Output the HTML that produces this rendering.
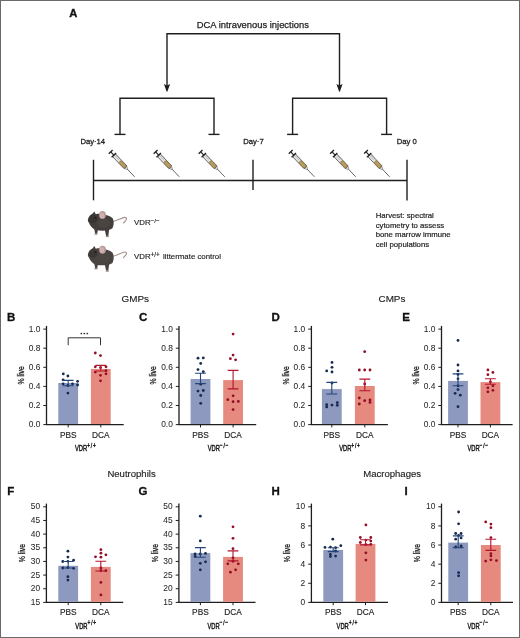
<!DOCTYPE html>
<html><head><meta charset="utf-8"><title>Figure</title>
<style>
html,body{margin:0;padding:0;background:#fff;}
svg{display:block;will-change:transform;}
text{font-family:"Liberation Sans",sans-serif;}
</style></head>
<body>
<svg width="520" height="638" viewBox="0 0 520 638" font-family="'Liberation Sans', sans-serif">
<rect x="0" y="0" width="520" height="638" fill="#fff"/>
<rect x="0.5" y="0.5" width="519" height="637" fill="none" stroke="#6a6a6a" stroke-width="1"/>
<text x="69.20" y="16.70" font-size="11.2" text-anchor="start" font-weight="bold" fill="#111" stroke="#111" stroke-width="0.35">A</text>
<text x="196.80" y="28.10" font-size="9.4" text-anchor="start" font-weight="normal" fill="#1e1e1e" stroke="#1e1e1e" stroke-width="0.25">DCA intravenous injections</text>
<path d="M167,86 V33.8 H339.5 V86" fill="none" stroke="#1e1e1e" stroke-width="1.4"/>
<path d="M163.90,84.0 L167.00,85.6 L170.10,84.0 L167.50,91.3 L167.00,91.9 L166.50,91.3 Z" fill="#1e1e1e"/>
<path d="M336.40,84.0 L339.50,85.6 L342.60,84.0 L340.00,91.3 L339.50,91.9 L339.00,91.3 Z" fill="#1e1e1e"/>
<path d="M120.0,134.4 V98.3 H214.0 V134.4" fill="none" stroke="#1e1e1e" stroke-width="1.4"/>
<line x1="114.5" y1="134.4" x2="125.5" y2="134.4" stroke="#1e1e1e" stroke-width="1.4"/>
<line x1="208.5" y1="134.4" x2="219.5" y2="134.4" stroke="#1e1e1e" stroke-width="1.4"/>
<path d="M292.6,134.4 V98.3 H386.6 V134.4" fill="none" stroke="#1e1e1e" stroke-width="1.4"/>
<line x1="287.1" y1="134.4" x2="298.1" y2="134.4" stroke="#1e1e1e" stroke-width="1.4"/>
<line x1="381.1" y1="134.4" x2="392.1" y2="134.4" stroke="#1e1e1e" stroke-width="1.4"/>
<text x="80.40" y="144.20" font-size="7.7" text-anchor="start" font-weight="normal" fill="#1e1e1e" stroke="#1e1e1e" stroke-width="0.28">Day<tspan font-size="5" dx="0.4" dy="-1.4">-</tspan><tspan dx="0.4" dy="1.4">14</tspan></text>
<text x="243.30" y="144.20" font-size="7.7" text-anchor="start" font-weight="normal" fill="#1e1e1e" stroke="#1e1e1e" stroke-width="0.28">Day<tspan font-size="5" dx="0.4" dy="-1.4">-</tspan><tspan dx="0.4" dy="1.4">7</tspan></text>
<text x="396.70" y="144.20" font-size="7.7" text-anchor="start" font-weight="normal" fill="#1e1e1e" stroke="#1e1e1e" stroke-width="0.28">Day 0</text>
<line x1="93.5" y1="180.5" x2="407" y2="180.5" stroke="#1e1e1e" stroke-width="1.4"/>
<line x1="93.5" y1="159.8" x2="93.5" y2="200.3" stroke="#1e1e1e" stroke-width="1.4"/>
<line x1="253" y1="159.8" x2="253" y2="190" stroke="#1e1e1e" stroke-width="1.4"/>
<line x1="407" y1="159.8" x2="407" y2="200.5" stroke="#1e1e1e" stroke-width="1.4"/>
<g transform="translate(110.70,151.80) rotate(46.29) scale(0.988)"><line x1="23" y1="0" x2="35" y2="0" stroke="#5c5c5c" stroke-width="0.9"/><path d="M21.5,-1.6 L24,-0.8 L24,0.8 L21.5,1.6 Z" fill="#d8d8d8" stroke="#555" stroke-width="0.5"/><rect x="5" y="-2.0" width="16.8" height="4.0" fill="#e2e2e2" stroke="#4a4a4a" stroke-width="0.75"/><rect x="13.4" y="-1.75" width="8.2" height="3.5" rx="1.7" fill="#b69d5d" stroke="#7a5a2a" stroke-width="0.5"/><line x1="6.8" y1="-2.2" x2="6.8" y2="0" stroke="#777" stroke-width="0.35"/><line x1="8.2" y1="-2.2" x2="8.2" y2="0" stroke="#777" stroke-width="0.35"/><line x1="9.6" y1="-2.2" x2="9.6" y2="0" stroke="#777" stroke-width="0.35"/><line x1="11.0" y1="-2.2" x2="11.0" y2="0" stroke="#777" stroke-width="0.35"/><line x1="0" y1="0" x2="5" y2="0" stroke="#222" stroke-width="1.2"/><line x1="0" y1="-2.7" x2="0" y2="2.7" stroke="#222" stroke-width="1.4"/><line x1="4.6" y1="-3.1" x2="4.6" y2="3.1" stroke="#222" stroke-width="1.3"/></g>
<g transform="translate(155.60,151.80) rotate(46.53) scale(0.984)"><line x1="23" y1="0" x2="35" y2="0" stroke="#5c5c5c" stroke-width="0.9"/><path d="M21.5,-1.6 L24,-0.8 L24,0.8 L21.5,1.6 Z" fill="#d8d8d8" stroke="#555" stroke-width="0.5"/><rect x="5" y="-2.0" width="16.8" height="4.0" fill="#e2e2e2" stroke="#4a4a4a" stroke-width="0.75"/><rect x="13.4" y="-1.75" width="8.2" height="3.5" rx="1.7" fill="#b69d5d" stroke="#7a5a2a" stroke-width="0.5"/><line x1="6.8" y1="-2.2" x2="6.8" y2="0" stroke="#777" stroke-width="0.35"/><line x1="8.2" y1="-2.2" x2="8.2" y2="0" stroke="#777" stroke-width="0.35"/><line x1="9.6" y1="-2.2" x2="9.6" y2="0" stroke="#777" stroke-width="0.35"/><line x1="11.0" y1="-2.2" x2="11.0" y2="0" stroke="#777" stroke-width="0.35"/><line x1="0" y1="0" x2="5" y2="0" stroke="#222" stroke-width="1.2"/><line x1="0" y1="-2.7" x2="0" y2="2.7" stroke="#222" stroke-width="1.4"/><line x1="4.6" y1="-3.1" x2="4.6" y2="3.1" stroke="#222" stroke-width="1.3"/></g>
<g transform="translate(200.60,151.80) rotate(45.93) scale(0.994)"><line x1="23" y1="0" x2="35" y2="0" stroke="#5c5c5c" stroke-width="0.9"/><path d="M21.5,-1.6 L24,-0.8 L24,0.8 L21.5,1.6 Z" fill="#d8d8d8" stroke="#555" stroke-width="0.5"/><rect x="5" y="-2.0" width="16.8" height="4.0" fill="#e2e2e2" stroke="#4a4a4a" stroke-width="0.75"/><rect x="13.4" y="-1.75" width="8.2" height="3.5" rx="1.7" fill="#b69d5d" stroke="#7a5a2a" stroke-width="0.5"/><line x1="6.8" y1="-2.2" x2="6.8" y2="0" stroke="#777" stroke-width="0.35"/><line x1="8.2" y1="-2.2" x2="8.2" y2="0" stroke="#777" stroke-width="0.35"/><line x1="9.6" y1="-2.2" x2="9.6" y2="0" stroke="#777" stroke-width="0.35"/><line x1="11.0" y1="-2.2" x2="11.0" y2="0" stroke="#777" stroke-width="0.35"/><line x1="0" y1="0" x2="5" y2="0" stroke="#222" stroke-width="1.2"/><line x1="0" y1="-2.7" x2="0" y2="2.7" stroke="#222" stroke-width="1.4"/><line x1="4.6" y1="-3.1" x2="4.6" y2="3.1" stroke="#222" stroke-width="1.3"/></g>
<g transform="translate(290.70,151.80) rotate(46.53) scale(0.984)"><line x1="23" y1="0" x2="35" y2="0" stroke="#5c5c5c" stroke-width="0.9"/><path d="M21.5,-1.6 L24,-0.8 L24,0.8 L21.5,1.6 Z" fill="#d8d8d8" stroke="#555" stroke-width="0.5"/><rect x="5" y="-2.0" width="16.8" height="4.0" fill="#e2e2e2" stroke="#4a4a4a" stroke-width="0.75"/><rect x="13.4" y="-1.75" width="8.2" height="3.5" rx="1.7" fill="#b69d5d" stroke="#7a5a2a" stroke-width="0.5"/><line x1="6.8" y1="-2.2" x2="6.8" y2="0" stroke="#777" stroke-width="0.35"/><line x1="8.2" y1="-2.2" x2="8.2" y2="0" stroke="#777" stroke-width="0.35"/><line x1="9.6" y1="-2.2" x2="9.6" y2="0" stroke="#777" stroke-width="0.35"/><line x1="11.0" y1="-2.2" x2="11.0" y2="0" stroke="#777" stroke-width="0.35"/><line x1="0" y1="0" x2="5" y2="0" stroke="#222" stroke-width="1.2"/><line x1="0" y1="-2.7" x2="0" y2="2.7" stroke="#222" stroke-width="1.4"/><line x1="4.6" y1="-3.1" x2="4.6" y2="3.1" stroke="#222" stroke-width="1.3"/></g>
<g transform="translate(332.00,151.80) rotate(46.53) scale(0.984)"><line x1="23" y1="0" x2="35" y2="0" stroke="#5c5c5c" stroke-width="0.9"/><path d="M21.5,-1.6 L24,-0.8 L24,0.8 L21.5,1.6 Z" fill="#d8d8d8" stroke="#555" stroke-width="0.5"/><rect x="5" y="-2.0" width="16.8" height="4.0" fill="#e2e2e2" stroke="#4a4a4a" stroke-width="0.75"/><rect x="13.4" y="-1.75" width="8.2" height="3.5" rx="1.7" fill="#b69d5d" stroke="#7a5a2a" stroke-width="0.5"/><line x1="6.8" y1="-2.2" x2="6.8" y2="0" stroke="#777" stroke-width="0.35"/><line x1="8.2" y1="-2.2" x2="8.2" y2="0" stroke="#777" stroke-width="0.35"/><line x1="9.6" y1="-2.2" x2="9.6" y2="0" stroke="#777" stroke-width="0.35"/><line x1="11.0" y1="-2.2" x2="11.0" y2="0" stroke="#777" stroke-width="0.35"/><line x1="0" y1="0" x2="5" y2="0" stroke="#222" stroke-width="1.2"/><line x1="0" y1="-2.7" x2="0" y2="2.7" stroke="#222" stroke-width="1.4"/><line x1="4.6" y1="-3.1" x2="4.6" y2="3.1" stroke="#222" stroke-width="1.3"/></g>
<g transform="translate(366.00,151.80) rotate(46.65) scale(0.982)"><line x1="23" y1="0" x2="35" y2="0" stroke="#5c5c5c" stroke-width="0.9"/><path d="M21.5,-1.6 L24,-0.8 L24,0.8 L21.5,1.6 Z" fill="#d8d8d8" stroke="#555" stroke-width="0.5"/><rect x="5" y="-2.0" width="16.8" height="4.0" fill="#e2e2e2" stroke="#4a4a4a" stroke-width="0.75"/><rect x="13.4" y="-1.75" width="8.2" height="3.5" rx="1.7" fill="#b69d5d" stroke="#7a5a2a" stroke-width="0.5"/><line x1="6.8" y1="-2.2" x2="6.8" y2="0" stroke="#777" stroke-width="0.35"/><line x1="8.2" y1="-2.2" x2="8.2" y2="0" stroke="#777" stroke-width="0.35"/><line x1="9.6" y1="-2.2" x2="9.6" y2="0" stroke="#777" stroke-width="0.35"/><line x1="11.0" y1="-2.2" x2="11.0" y2="0" stroke="#777" stroke-width="0.35"/><line x1="0" y1="0" x2="5" y2="0" stroke="#222" stroke-width="1.2"/><line x1="0" y1="-2.7" x2="0" y2="2.7" stroke="#222" stroke-width="1.4"/><line x1="4.6" y1="-3.1" x2="4.6" y2="3.1" stroke="#222" stroke-width="1.3"/></g>
<g transform="translate(87.90,218.80)"><path d="M24.5,3 C29,2 33,-0.6 36.5,-1.4 C38.6,-1.7 39.2,0 37.9,1.6 L35.6,4.2" fill="none" stroke="#a89492" stroke-width="1.15" stroke-linecap="round"/><path d="M6,8 L7.3,15 L9.3,15 L10.5,8 Z" fill="#433e3b"/><path d="M16.5,9 L18.2,17.3 L20.4,17.3 L21.5,9 Z" fill="#433e3b"/><ellipse cx="8.1" cy="15.2" rx="1.7" ry="0.85" fill="#9a8886"/><ellipse cx="19.4" cy="17.5" rx="1.7" ry="0.85" fill="#9a8886"/><path d="M0,1 C0.5,-1.5 2,-3.5 4.5,-5 L6.5,-7.4 L7.9,-4.6 C10,-5.2 12,-5.2 14,-4.6 C18,-3.8 22,-3.4 24.5,-0.8 C26.2,1.5 26.2,6.5 24.5,9.5 C22,12 14,12.3 8,11.3 C4.5,10.2 2.2,6.8 1,4 C0.2,3 -0.2,2 0,1 Z" fill="#433e3b"/><ellipse cx="5" cy="0" rx="4.5" ry="4.5" fill="#2c2b29" opacity="0.45"/><ellipse cx="16" cy="4.5" rx="6.5" ry="4.5" fill="#4c4843" opacity="0.7"/><ellipse cx="14.6" cy="-3.7" rx="3.4" ry="4.0" fill="#b8999a"/><ellipse cx="14.1" cy="-3.4" rx="2.3" ry="2.9" fill="#d0b0ad"/><circle cx="7.7" cy="-1.2" r="0.9" fill="#151515"/></g>
<g transform="translate(87.90,253.40)"><path d="M24.5,3 C29,2 33,-0.6 36.5,-1.4 C38.6,-1.7 39.2,0 37.9,1.6 L35.6,4.2" fill="none" stroke="#a89492" stroke-width="1.15" stroke-linecap="round"/><path d="M6,8 L7.3,15 L9.3,15 L10.5,8 Z" fill="#494341"/><path d="M16.5,9 L18.2,17.3 L20.4,17.3 L21.5,9 Z" fill="#494341"/><ellipse cx="8.1" cy="15.2" rx="1.7" ry="0.85" fill="#9a8886"/><ellipse cx="19.4" cy="17.5" rx="1.7" ry="0.85" fill="#9a8886"/><path d="M0,1 C0.5,-1.5 2,-3.5 4.5,-5 L6.5,-7.4 L7.9,-4.6 C10,-5.2 12,-5.2 14,-4.6 C18,-3.8 22,-3.4 24.5,-0.8 C26.2,1.5 26.2,6.5 24.5,9.5 C22,12 14,12.3 8,11.3 C4.5,10.2 2.2,6.8 1,4 C0.2,3 -0.2,2 0,1 Z" fill="#494341"/><ellipse cx="5" cy="0" rx="4.5" ry="4.5" fill="#2c2b29" opacity="0.45"/><ellipse cx="16" cy="4.5" rx="6.5" ry="4.5" fill="#4c4843" opacity="0.7"/><ellipse cx="14.6" cy="-3.7" rx="3.4" ry="4.0" fill="#b8999a"/><ellipse cx="14.1" cy="-3.4" rx="2.3" ry="2.9" fill="#d0b0ad"/><circle cx="7.7" cy="-1.2" r="0.9" fill="#151515"/></g>
<text x="134.0" y="224.8" font-size="7.85" fill="#1e1e1e" stroke="#1e1e1e" stroke-width="0.15">VDR<tspan dy="-2.2" font-size="6.2">−/−</tspan></text>
<text x="134.0" y="259.4" font-size="7.85" fill="#1e1e1e" stroke="#1e1e1e" stroke-width="0.15">VDR<tspan dy="-2.5" font-size="6.4">+/+</tspan><tspan dy="2.5" dx="1"> littermate control</tspan></text>
<text x="375.70" y="218.00" font-size="7.75" text-anchor="start" font-weight="normal" fill="#1e1e1e" stroke="#1e1e1e" stroke-width="0.2">Harvest: spectral</text>
<text x="375.70" y="227.50" font-size="7.75" text-anchor="start" font-weight="normal" fill="#1e1e1e" stroke="#1e1e1e" stroke-width="0.2">cytometry to assess</text>
<text x="375.70" y="237.00" font-size="7.75" text-anchor="start" font-weight="normal" fill="#1e1e1e" stroke="#1e1e1e" stroke-width="0.2">bone marrow immune</text>
<text x="375.70" y="246.50" font-size="7.75" text-anchor="start" font-weight="normal" fill="#1e1e1e" stroke="#1e1e1e" stroke-width="0.2">cell populations</text>
<text x="121.60" y="302.20" font-size="9.9" text-anchor="start" font-weight="normal" fill="#1e1e1e" stroke="#1e1e1e" stroke-width="0.15">GMPs</text>
<text x="378.50" y="302.20" font-size="9.9" text-anchor="start" font-weight="normal" fill="#1e1e1e" stroke="#1e1e1e" stroke-width="0.15">CMPs</text>
<text x="107.40" y="477.30" font-size="9.55" text-anchor="start" font-weight="normal" fill="#1e1e1e" stroke="#1e1e1e" stroke-width="0.15">Neutrophils</text>
<text x="363.20" y="477.30" font-size="9.55" text-anchor="start" font-weight="normal" fill="#1e1e1e" stroke="#1e1e1e" stroke-width="0.15">Macrophages</text>
<line x1="46.5" y1="325.90000000000003" x2="46.5" y2="424.6" stroke="#1e1e1e" stroke-width="1.3"/>
<line x1="45.9" y1="424.6" x2="123.7" y2="424.6" stroke="#1e1e1e" stroke-width="1.3"/>
<line x1="43.3" y1="329.1" x2="46.5" y2="329.1" stroke="#1e1e1e" stroke-width="1"/>
<text x="40.30" y="331.75" font-size="8.4" text-anchor="end" font-weight="normal" fill="#2a2a2a" stroke="#2a2a2a" stroke-width="0.05">1.0</text>
<line x1="43.3" y1="348.20000000000005" x2="46.5" y2="348.20000000000005" stroke="#1e1e1e" stroke-width="1"/>
<text x="40.30" y="350.85" font-size="8.4" text-anchor="end" font-weight="normal" fill="#2a2a2a" stroke="#2a2a2a" stroke-width="0.05">0.8</text>
<line x1="43.3" y1="367.3" x2="46.5" y2="367.3" stroke="#1e1e1e" stroke-width="1"/>
<text x="40.30" y="369.95" font-size="8.4" text-anchor="end" font-weight="normal" fill="#2a2a2a" stroke="#2a2a2a" stroke-width="0.05">0.6</text>
<line x1="43.3" y1="386.40000000000003" x2="46.5" y2="386.40000000000003" stroke="#1e1e1e" stroke-width="1"/>
<text x="40.30" y="389.05" font-size="8.4" text-anchor="end" font-weight="normal" fill="#2a2a2a" stroke="#2a2a2a" stroke-width="0.05">0.4</text>
<line x1="43.3" y1="405.5" x2="46.5" y2="405.5" stroke="#1e1e1e" stroke-width="1"/>
<text x="40.30" y="408.15" font-size="8.4" text-anchor="end" font-weight="normal" fill="#2a2a2a" stroke="#2a2a2a" stroke-width="0.05">0.2</text>
<line x1="43.3" y1="424.6" x2="46.5" y2="424.6" stroke="#1e1e1e" stroke-width="1"/>
<text x="40.30" y="427.25" font-size="8.4" text-anchor="end" font-weight="normal" fill="#2a2a2a" stroke="#2a2a2a" stroke-width="0.05">0.0</text>
<rect x="58.30" y="383.00" width="19.8" height="41.00" fill="#8d99be"/>
<line x1="68.20" y1="424.6" x2="68.20" y2="427.40000000000003" stroke="#1e1e1e" stroke-width="1"/>
<circle cx="63.30" cy="373.90" r="1.4" fill="#16294f"/>
<circle cx="67.90" cy="376.00" r="1.4" fill="#16294f"/>
<circle cx="63.10" cy="379.80" r="1.4" fill="#16294f"/>
<circle cx="77.60" cy="381.30" r="1.4" fill="#16294f"/>
<circle cx="63.10" cy="383.80" r="1.4" fill="#16294f"/>
<circle cx="72.50" cy="383.80" r="1.4" fill="#16294f"/>
<circle cx="77.60" cy="385.00" r="1.4" fill="#16294f"/>
<circle cx="67.90" cy="385.50" r="1.4" fill="#16294f"/>
<circle cx="67.90" cy="393.10" r="1.4" fill="#16294f"/>
<path d="M62.80,380.40 H73.60 M68.20,380.40 V385.80 M62.80,385.80 H73.60" stroke="#24457a" stroke-width="1.1" fill="none"/>
<rect x="90.90" y="368.90" width="19.8" height="55.10" fill="#e6897e"/>
<line x1="100.80" y1="424.6" x2="100.80" y2="427.40000000000003" stroke="#1e1e1e" stroke-width="1"/>
<circle cx="95.30" cy="353.00" r="1.4" fill="#940e26"/>
<circle cx="100.50" cy="355.60" r="1.4" fill="#940e26"/>
<circle cx="95.30" cy="366.80" r="1.4" fill="#940e26"/>
<circle cx="100.50" cy="367.60" r="1.4" fill="#940e26"/>
<circle cx="106.00" cy="366.80" r="1.4" fill="#940e26"/>
<circle cx="95.30" cy="372.10" r="1.4" fill="#940e26"/>
<circle cx="106.00" cy="370.70" r="1.4" fill="#940e26"/>
<circle cx="106.00" cy="373.80" r="1.4" fill="#940e26"/>
<circle cx="100.50" cy="375.30" r="1.4" fill="#940e26"/>
<circle cx="100.50" cy="380.80" r="1.4" fill="#940e26"/>
<path d="M95.40,365.40 H106.20 M100.80,365.40 V371.00 M95.40,371.00 H106.20" stroke="#b3142f" stroke-width="1.1" fill="none"/>
<text x="68.20" y="437.50" font-size="8.3" text-anchor="middle" font-weight="normal" fill="#222" stroke="#222" stroke-width="0.14">PBS</text>
<text x="100.80" y="437.50" font-size="8.3" text-anchor="middle" font-weight="normal" fill="#222" stroke="#222" stroke-width="0.14">DCA</text>
<g transform="translate(85.80,450.80) scale(0.61,1)"><text x="0" y="0" font-size="9.5" text-anchor="middle" fill="#1a1a1a" stroke="#1a1a1a" stroke-width="0.5">VDR<tspan dy="-3.3" font-size="8" letter-spacing="1.3">+/+</tspan></text></g>
<g transform="translate(23.80,375.35) rotate(-90) scale(0.73,1)"><text x="0" y="0" font-size="9.4" text-anchor="middle" fill="#1a1a1a" stroke="#1a1a1a" stroke-width="0.3">% live</text></g>
<text x="7.00" y="320.80" font-size="11.5" text-anchor="start" font-weight="bold" fill="#111" stroke="#111" stroke-width="0.3">B</text>
<path d="M68.2,345.2 V337.8 H100.5 V345.2" fill="none" stroke="#333" stroke-width="1"/>
<circle cx="81.35" cy="333.50" r="0.85" fill="#222"/>
<circle cx="84.35" cy="333.50" r="0.85" fill="#222"/>
<circle cx="87.35" cy="333.50" r="0.85" fill="#222"/>
<line x1="179.0" y1="325.90000000000003" x2="179.0" y2="424.6" stroke="#1e1e1e" stroke-width="1.3"/>
<line x1="178.4" y1="424.6" x2="256.2" y2="424.6" stroke="#1e1e1e" stroke-width="1.3"/>
<line x1="175.8" y1="329.1" x2="179.0" y2="329.1" stroke="#1e1e1e" stroke-width="1"/>
<text x="172.80" y="331.75" font-size="8.4" text-anchor="end" font-weight="normal" fill="#2a2a2a" stroke="#2a2a2a" stroke-width="0.05">1.0</text>
<line x1="175.8" y1="348.20000000000005" x2="179.0" y2="348.20000000000005" stroke="#1e1e1e" stroke-width="1"/>
<text x="172.80" y="350.85" font-size="8.4" text-anchor="end" font-weight="normal" fill="#2a2a2a" stroke="#2a2a2a" stroke-width="0.05">0.8</text>
<line x1="175.8" y1="367.3" x2="179.0" y2="367.3" stroke="#1e1e1e" stroke-width="1"/>
<text x="172.80" y="369.95" font-size="8.4" text-anchor="end" font-weight="normal" fill="#2a2a2a" stroke="#2a2a2a" stroke-width="0.05">0.6</text>
<line x1="175.8" y1="386.40000000000003" x2="179.0" y2="386.40000000000003" stroke="#1e1e1e" stroke-width="1"/>
<text x="172.80" y="389.05" font-size="8.4" text-anchor="end" font-weight="normal" fill="#2a2a2a" stroke="#2a2a2a" stroke-width="0.05">0.4</text>
<line x1="175.8" y1="405.5" x2="179.0" y2="405.5" stroke="#1e1e1e" stroke-width="1"/>
<text x="172.80" y="408.15" font-size="8.4" text-anchor="end" font-weight="normal" fill="#2a2a2a" stroke="#2a2a2a" stroke-width="0.05">0.2</text>
<line x1="175.8" y1="424.6" x2="179.0" y2="424.6" stroke="#1e1e1e" stroke-width="1"/>
<text x="172.80" y="427.25" font-size="8.4" text-anchor="end" font-weight="normal" fill="#2a2a2a" stroke="#2a2a2a" stroke-width="0.05">0.0</text>
<rect x="190.60" y="379.00" width="19.8" height="45.00" fill="#8d99be"/>
<line x1="200.50" y1="424.6" x2="200.50" y2="427.40000000000003" stroke="#1e1e1e" stroke-width="1"/>
<circle cx="198.00" cy="358.20" r="1.4" fill="#16294f"/>
<circle cx="203.30" cy="357.90" r="1.4" fill="#16294f"/>
<circle cx="200.70" cy="363.40" r="1.4" fill="#16294f"/>
<circle cx="198.00" cy="369.60" r="1.4" fill="#16294f"/>
<circle cx="203.30" cy="371.70" r="1.4" fill="#16294f"/>
<circle cx="200.70" cy="384.20" r="1.4" fill="#16294f"/>
<circle cx="198.00" cy="391.10" r="1.4" fill="#16294f"/>
<circle cx="203.30" cy="390.50" r="1.4" fill="#16294f"/>
<circle cx="200.70" cy="395.50" r="1.4" fill="#16294f"/>
<circle cx="200.70" cy="403.30" r="1.4" fill="#16294f"/>
<path d="M195.10,373.20 H205.90 M200.50,373.20 V383.60 M195.10,383.60 H205.90" stroke="#24457a" stroke-width="1.1" fill="none"/>
<rect x="223.20" y="380.10" width="19.8" height="43.90" fill="#e6897e"/>
<line x1="233.10" y1="424.6" x2="233.10" y2="427.40000000000003" stroke="#1e1e1e" stroke-width="1"/>
<circle cx="233.10" cy="334.10" r="1.4" fill="#940e26"/>
<circle cx="233.10" cy="355.10" r="1.4" fill="#940e26"/>
<circle cx="230.40" cy="358.70" r="1.4" fill="#940e26"/>
<circle cx="235.60" cy="359.80" r="1.4" fill="#940e26"/>
<circle cx="233.10" cy="395.80" r="1.4" fill="#940e26"/>
<circle cx="227.80" cy="399.70" r="1.4" fill="#940e26"/>
<circle cx="233.10" cy="401.70" r="1.4" fill="#940e26"/>
<circle cx="238.30" cy="401.40" r="1.4" fill="#940e26"/>
<circle cx="233.10" cy="409.60" r="1.4" fill="#940e26"/>
<path d="M227.70,370.40 H238.50 M233.10,370.40 V388.90 M227.70,388.90 H238.50" stroke="#b3142f" stroke-width="1.1" fill="none"/>
<text x="200.50" y="437.50" font-size="8.3" text-anchor="middle" font-weight="normal" fill="#222" stroke="#222" stroke-width="0.14">PBS</text>
<text x="233.10" y="437.50" font-size="8.3" text-anchor="middle" font-weight="normal" fill="#222" stroke="#222" stroke-width="0.14">DCA</text>
<g transform="translate(218.45,450.80) scale(0.61,1)"><text x="0" y="0" font-size="9.5" text-anchor="middle" fill="#1a1a1a" stroke="#1a1a1a" stroke-width="0.5">VDR<tspan dy="-3.3" font-size="8" letter-spacing="1.3">−/−</tspan></text></g>
<g transform="translate(156.30,375.35) rotate(-90) scale(0.73,1)"><text x="0" y="0" font-size="9.4" text-anchor="middle" fill="#1a1a1a" stroke="#1a1a1a" stroke-width="0.3">% live</text></g>
<text x="139.00" y="320.60" font-size="11.5" text-anchor="start" font-weight="bold" fill="#111" stroke="#111" stroke-width="0.3">C</text>
<line x1="311.4" y1="325.90000000000003" x2="311.4" y2="424.6" stroke="#1e1e1e" stroke-width="1.3"/>
<line x1="310.79999999999995" y1="424.6" x2="387.9" y2="424.6" stroke="#1e1e1e" stroke-width="1.3"/>
<line x1="308.2" y1="329.1" x2="311.4" y2="329.1" stroke="#1e1e1e" stroke-width="1"/>
<text x="305.20" y="331.75" font-size="8.4" text-anchor="end" font-weight="normal" fill="#2a2a2a" stroke="#2a2a2a" stroke-width="0.05">1.0</text>
<line x1="308.2" y1="348.20000000000005" x2="311.4" y2="348.20000000000005" stroke="#1e1e1e" stroke-width="1"/>
<text x="305.20" y="350.85" font-size="8.4" text-anchor="end" font-weight="normal" fill="#2a2a2a" stroke="#2a2a2a" stroke-width="0.05">0.8</text>
<line x1="308.2" y1="367.3" x2="311.4" y2="367.3" stroke="#1e1e1e" stroke-width="1"/>
<text x="305.20" y="369.95" font-size="8.4" text-anchor="end" font-weight="normal" fill="#2a2a2a" stroke="#2a2a2a" stroke-width="0.05">0.6</text>
<line x1="308.2" y1="386.40000000000003" x2="311.4" y2="386.40000000000003" stroke="#1e1e1e" stroke-width="1"/>
<text x="305.20" y="389.05" font-size="8.4" text-anchor="end" font-weight="normal" fill="#2a2a2a" stroke="#2a2a2a" stroke-width="0.05">0.4</text>
<line x1="308.2" y1="405.5" x2="311.4" y2="405.5" stroke="#1e1e1e" stroke-width="1"/>
<text x="305.20" y="408.15" font-size="8.4" text-anchor="end" font-weight="normal" fill="#2a2a2a" stroke="#2a2a2a" stroke-width="0.05">0.2</text>
<line x1="308.2" y1="424.6" x2="311.4" y2="424.6" stroke="#1e1e1e" stroke-width="1"/>
<text x="305.20" y="427.25" font-size="8.4" text-anchor="end" font-weight="normal" fill="#2a2a2a" stroke="#2a2a2a" stroke-width="0.05">0.0</text>
<rect x="321.90" y="389.10" width="19.8" height="34.90" fill="#8d99be"/>
<line x1="331.80" y1="424.6" x2="331.80" y2="427.40000000000003" stroke="#1e1e1e" stroke-width="1"/>
<circle cx="332.00" cy="362.40" r="1.4" fill="#16294f"/>
<circle cx="332.00" cy="367.30" r="1.4" fill="#16294f"/>
<circle cx="326.70" cy="370.90" r="1.4" fill="#16294f"/>
<circle cx="332.00" cy="372.00" r="1.4" fill="#16294f"/>
<circle cx="332.00" cy="383.00" r="1.4" fill="#16294f"/>
<circle cx="326.70" cy="404.70" r="1.4" fill="#16294f"/>
<circle cx="326.70" cy="406.90" r="1.4" fill="#16294f"/>
<circle cx="332.00" cy="405.10" r="1.4" fill="#16294f"/>
<circle cx="337.30" cy="402.70" r="1.4" fill="#16294f"/>
<circle cx="337.30" cy="405.30" r="1.4" fill="#16294f"/>
<path d="M326.40,382.40 H337.20 M331.80,382.40 V394.00 M326.40,394.00 H337.20" stroke="#24457a" stroke-width="1.1" fill="none"/>
<rect x="354.90" y="386.00" width="19.8" height="38.00" fill="#e6897e"/>
<line x1="364.80" y1="424.6" x2="364.80" y2="427.40000000000003" stroke="#1e1e1e" stroke-width="1"/>
<circle cx="364.70" cy="351.70" r="1.4" fill="#940e26"/>
<circle cx="359.30" cy="370.00" r="1.4" fill="#940e26"/>
<circle cx="364.70" cy="370.00" r="1.4" fill="#940e26"/>
<circle cx="370.00" cy="370.00" r="1.4" fill="#940e26"/>
<circle cx="364.70" cy="384.00" r="1.4" fill="#940e26"/>
<circle cx="359.30" cy="398.00" r="1.4" fill="#940e26"/>
<circle cx="364.70" cy="400.70" r="1.4" fill="#940e26"/>
<circle cx="370.00" cy="400.00" r="1.4" fill="#940e26"/>
<circle cx="370.00" cy="402.40" r="1.4" fill="#940e26"/>
<circle cx="359.30" cy="404.00" r="1.4" fill="#940e26"/>
<path d="M359.40,379.10 H370.20 M364.80,379.10 V390.70 M359.40,390.70 H370.20" stroke="#b3142f" stroke-width="1.1" fill="none"/>
<text x="331.80" y="437.50" font-size="8.3" text-anchor="middle" font-weight="normal" fill="#222" stroke="#222" stroke-width="0.14">PBS</text>
<text x="364.80" y="437.50" font-size="8.3" text-anchor="middle" font-weight="normal" fill="#222" stroke="#222" stroke-width="0.14">DCA</text>
<g transform="translate(349.95,450.80) scale(0.61,1)"><text x="0" y="0" font-size="9.5" text-anchor="middle" fill="#1a1a1a" stroke="#1a1a1a" stroke-width="0.5">VDR<tspan dy="-3.3" font-size="8" letter-spacing="1.3">+/+</tspan></text></g>
<g transform="translate(288.70,375.35) rotate(-90) scale(0.73,1)"><text x="0" y="0" font-size="9.4" text-anchor="middle" fill="#1a1a1a" stroke="#1a1a1a" stroke-width="0.3">% live</text></g>
<text x="271.50" y="321.20" font-size="11.5" text-anchor="start" font-weight="bold" fill="#111" stroke="#111" stroke-width="0.3">D</text>
<line x1="441.5" y1="325.90000000000003" x2="441.5" y2="424.6" stroke="#1e1e1e" stroke-width="1.3"/>
<line x1="440.9" y1="424.6" x2="512.6" y2="424.6" stroke="#1e1e1e" stroke-width="1.3"/>
<line x1="438.3" y1="329.1" x2="441.5" y2="329.1" stroke="#1e1e1e" stroke-width="1"/>
<text x="435.30" y="331.75" font-size="8.4" text-anchor="end" font-weight="normal" fill="#2a2a2a" stroke="#2a2a2a" stroke-width="0.05">1.0</text>
<line x1="438.3" y1="348.20000000000005" x2="441.5" y2="348.20000000000005" stroke="#1e1e1e" stroke-width="1"/>
<text x="435.30" y="350.85" font-size="8.4" text-anchor="end" font-weight="normal" fill="#2a2a2a" stroke="#2a2a2a" stroke-width="0.05">0.8</text>
<line x1="438.3" y1="367.3" x2="441.5" y2="367.3" stroke="#1e1e1e" stroke-width="1"/>
<text x="435.30" y="369.95" font-size="8.4" text-anchor="end" font-weight="normal" fill="#2a2a2a" stroke="#2a2a2a" stroke-width="0.05">0.6</text>
<line x1="438.3" y1="386.40000000000003" x2="441.5" y2="386.40000000000003" stroke="#1e1e1e" stroke-width="1"/>
<text x="435.30" y="389.05" font-size="8.4" text-anchor="end" font-weight="normal" fill="#2a2a2a" stroke="#2a2a2a" stroke-width="0.05">0.4</text>
<line x1="438.3" y1="405.5" x2="441.5" y2="405.5" stroke="#1e1e1e" stroke-width="1"/>
<text x="435.30" y="408.15" font-size="8.4" text-anchor="end" font-weight="normal" fill="#2a2a2a" stroke="#2a2a2a" stroke-width="0.05">0.2</text>
<line x1="438.3" y1="424.6" x2="441.5" y2="424.6" stroke="#1e1e1e" stroke-width="1"/>
<text x="435.30" y="427.25" font-size="8.4" text-anchor="end" font-weight="normal" fill="#2a2a2a" stroke="#2a2a2a" stroke-width="0.05">0.0</text>
<rect x="448.10" y="380.90" width="19.8" height="43.10" fill="#8d99be"/>
<line x1="458.00" y1="424.6" x2="458.00" y2="427.40000000000003" stroke="#1e1e1e" stroke-width="1"/>
<circle cx="458.00" cy="340.40" r="1.4" fill="#16294f"/>
<circle cx="458.00" cy="365.00" r="1.4" fill="#16294f"/>
<circle cx="458.00" cy="370.90" r="1.4" fill="#16294f"/>
<circle cx="458.00" cy="374.40" r="1.4" fill="#16294f"/>
<circle cx="458.00" cy="378.80" r="1.4" fill="#16294f"/>
<circle cx="458.00" cy="385.80" r="1.4" fill="#16294f"/>
<circle cx="458.00" cy="389.60" r="1.4" fill="#16294f"/>
<circle cx="455.10" cy="393.30" r="1.4" fill="#16294f"/>
<circle cx="460.30" cy="395.20" r="1.4" fill="#16294f"/>
<circle cx="458.00" cy="406.70" r="1.4" fill="#16294f"/>
<path d="M452.60,373.90 H463.40 M458.00,373.90 V385.80 M452.60,385.80 H463.40" stroke="#24457a" stroke-width="1.1" fill="none"/>
<rect x="480.50" y="382.10" width="19.8" height="41.90" fill="#e6897e"/>
<line x1="490.40" y1="424.6" x2="490.40" y2="427.40000000000003" stroke="#1e1e1e" stroke-width="1"/>
<circle cx="487.90" cy="369.90" r="1.4" fill="#940e26"/>
<circle cx="492.90" cy="372.40" r="1.4" fill="#940e26"/>
<circle cx="487.90" cy="374.70" r="1.4" fill="#940e26"/>
<circle cx="490.40" cy="381.80" r="1.4" fill="#940e26"/>
<circle cx="492.90" cy="385.80" r="1.4" fill="#940e26"/>
<circle cx="487.90" cy="387.80" r="1.4" fill="#940e26"/>
<circle cx="492.90" cy="390.30" r="1.4" fill="#940e26"/>
<circle cx="487.90" cy="391.80" r="1.4" fill="#940e26"/>
<path d="M485.00,378.80 H495.80 M490.40,378.80 V384.30 M485.00,384.30 H495.80" stroke="#b3142f" stroke-width="1.1" fill="none"/>
<text x="458.00" y="437.50" font-size="8.3" text-anchor="middle" font-weight="normal" fill="#222" stroke="#222" stroke-width="0.14">PBS</text>
<text x="490.40" y="437.50" font-size="8.3" text-anchor="middle" font-weight="normal" fill="#222" stroke="#222" stroke-width="0.14">DCA</text>
<g transform="translate(478.20,450.80) scale(0.61,1)"><text x="0" y="0" font-size="9.5" text-anchor="middle" fill="#1a1a1a" stroke="#1a1a1a" stroke-width="0.5">VDR<tspan dy="-3.3" font-size="8" letter-spacing="1.3">−/−</tspan></text></g>
<g transform="translate(418.80,375.35) rotate(-90) scale(0.73,1)"><text x="0" y="0" font-size="9.4" text-anchor="middle" fill="#1a1a1a" stroke="#1a1a1a" stroke-width="0.3">% live</text></g>
<text x="402.30" y="321.20" font-size="11.5" text-anchor="start" font-weight="bold" fill="#111" stroke="#111" stroke-width="0.3">E</text>
<line x1="46.4" y1="503.6" x2="46.4" y2="602.4" stroke="#1e1e1e" stroke-width="1.3"/>
<line x1="45.8" y1="602.4" x2="123.2" y2="602.4" stroke="#1e1e1e" stroke-width="1.3"/>
<line x1="43.199999999999996" y1="506.8" x2="46.4" y2="506.8" stroke="#1e1e1e" stroke-width="1"/>
<text x="40.20" y="509.45" font-size="8.4" text-anchor="end" font-weight="normal" fill="#2a2a2a" stroke="#2a2a2a" stroke-width="0.05">50</text>
<line x1="43.199999999999996" y1="520.4571428571429" x2="46.4" y2="520.4571428571429" stroke="#1e1e1e" stroke-width="1"/>
<text x="40.20" y="523.11" font-size="8.4" text-anchor="end" font-weight="normal" fill="#2a2a2a" stroke="#2a2a2a" stroke-width="0.05">45</text>
<line x1="43.199999999999996" y1="534.1142857142858" x2="46.4" y2="534.1142857142858" stroke="#1e1e1e" stroke-width="1"/>
<text x="40.20" y="536.76" font-size="8.4" text-anchor="end" font-weight="normal" fill="#2a2a2a" stroke="#2a2a2a" stroke-width="0.05">40</text>
<line x1="43.199999999999996" y1="547.7714285714286" x2="46.4" y2="547.7714285714286" stroke="#1e1e1e" stroke-width="1"/>
<text x="40.20" y="550.42" font-size="8.4" text-anchor="end" font-weight="normal" fill="#2a2a2a" stroke="#2a2a2a" stroke-width="0.05">35</text>
<line x1="43.199999999999996" y1="561.4285714285714" x2="46.4" y2="561.4285714285714" stroke="#1e1e1e" stroke-width="1"/>
<text x="40.20" y="564.08" font-size="8.4" text-anchor="end" font-weight="normal" fill="#2a2a2a" stroke="#2a2a2a" stroke-width="0.05">30</text>
<line x1="43.199999999999996" y1="575.0857142857143" x2="46.4" y2="575.0857142857143" stroke="#1e1e1e" stroke-width="1"/>
<text x="40.20" y="577.74" font-size="8.4" text-anchor="end" font-weight="normal" fill="#2a2a2a" stroke="#2a2a2a" stroke-width="0.05">25</text>
<line x1="43.199999999999996" y1="588.7428571428571" x2="46.4" y2="588.7428571428571" stroke="#1e1e1e" stroke-width="1"/>
<text x="40.20" y="591.39" font-size="8.4" text-anchor="end" font-weight="normal" fill="#2a2a2a" stroke="#2a2a2a" stroke-width="0.05">20</text>
<line x1="43.199999999999996" y1="602.4" x2="46.4" y2="602.4" stroke="#1e1e1e" stroke-width="1"/>
<text x="40.20" y="605.05" font-size="8.4" text-anchor="end" font-weight="normal" fill="#2a2a2a" stroke="#2a2a2a" stroke-width="0.05">15</text>
<rect x="58.30" y="565.80" width="19.8" height="36.00" fill="#8d99be"/>
<line x1="68.20" y1="602.4" x2="68.20" y2="605.1999999999999" stroke="#1e1e1e" stroke-width="1"/>
<circle cx="67.90" cy="551.20" r="1.4" fill="#16294f"/>
<circle cx="67.90" cy="557.10" r="1.4" fill="#16294f"/>
<circle cx="62.80" cy="561.50" r="1.4" fill="#16294f"/>
<circle cx="67.90" cy="561.30" r="1.4" fill="#16294f"/>
<circle cx="73.60" cy="560.20" r="1.4" fill="#16294f"/>
<circle cx="62.80" cy="568.00" r="1.4" fill="#16294f"/>
<circle cx="67.90" cy="567.60" r="1.4" fill="#16294f"/>
<circle cx="73.60" cy="568.30" r="1.4" fill="#16294f"/>
<circle cx="67.90" cy="576.70" r="1.4" fill="#16294f"/>
<circle cx="67.90" cy="580.10" r="1.4" fill="#16294f"/>
<path d="M62.80,561.50 H73.60 M68.20,561.50 V568.00 M62.80,568.00 H73.60" stroke="#24457a" stroke-width="1.1" fill="none"/>
<rect x="90.90" y="566.90" width="19.8" height="34.90" fill="#e6897e"/>
<line x1="100.80" y1="602.4" x2="100.80" y2="605.1999999999999" stroke="#1e1e1e" stroke-width="1"/>
<circle cx="100.90" cy="549.70" r="1.4" fill="#940e26"/>
<circle cx="100.90" cy="553.20" r="1.4" fill="#940e26"/>
<circle cx="95.50" cy="556.80" r="1.4" fill="#940e26"/>
<circle cx="100.90" cy="557.20" r="1.4" fill="#940e26"/>
<circle cx="105.90" cy="554.80" r="1.4" fill="#940e26"/>
<circle cx="100.90" cy="568.00" r="1.4" fill="#940e26"/>
<circle cx="100.90" cy="570.70" r="1.4" fill="#940e26"/>
<circle cx="105.90" cy="570.70" r="1.4" fill="#940e26"/>
<circle cx="100.90" cy="582.40" r="1.4" fill="#940e26"/>
<circle cx="100.90" cy="594.90" r="1.4" fill="#940e26"/>
<path d="M95.40,561.30 H106.20 M100.80,561.30 V571.00 M95.40,571.00 H106.20" stroke="#b3142f" stroke-width="1.1" fill="none"/>
<text x="68.20" y="615.30" font-size="8.3" text-anchor="middle" font-weight="normal" fill="#222" stroke="#222" stroke-width="0.14">PBS</text>
<text x="100.80" y="615.30" font-size="8.3" text-anchor="middle" font-weight="normal" fill="#222" stroke="#222" stroke-width="0.14">DCA</text>
<g transform="translate(86.10,628.60) scale(0.61,1)"><text x="0" y="0" font-size="9.5" text-anchor="middle" fill="#1a1a1a" stroke="#1a1a1a" stroke-width="0.5">VDR<tspan dy="-3.3" font-size="8" letter-spacing="1.3">+/+</tspan></text></g>
<g transform="translate(25.00,553.10) rotate(-90) scale(0.73,1)"><text x="0" y="0" font-size="9.4" text-anchor="middle" fill="#1a1a1a" stroke="#1a1a1a" stroke-width="0.3">% live</text></g>
<text x="7.20" y="495.00" font-size="11.5" text-anchor="start" font-weight="bold" fill="#111" stroke="#111" stroke-width="0.3">F</text>
<line x1="178.9" y1="503.6" x2="178.9" y2="602.4" stroke="#1e1e1e" stroke-width="1.3"/>
<line x1="178.3" y1="602.4" x2="255.5" y2="602.4" stroke="#1e1e1e" stroke-width="1.3"/>
<line x1="175.70000000000002" y1="506.8" x2="178.9" y2="506.8" stroke="#1e1e1e" stroke-width="1"/>
<text x="172.70" y="509.45" font-size="8.4" text-anchor="end" font-weight="normal" fill="#2a2a2a" stroke="#2a2a2a" stroke-width="0.05">50</text>
<line x1="175.70000000000002" y1="520.4571428571429" x2="178.9" y2="520.4571428571429" stroke="#1e1e1e" stroke-width="1"/>
<text x="172.70" y="523.11" font-size="8.4" text-anchor="end" font-weight="normal" fill="#2a2a2a" stroke="#2a2a2a" stroke-width="0.05">45</text>
<line x1="175.70000000000002" y1="534.1142857142858" x2="178.9" y2="534.1142857142858" stroke="#1e1e1e" stroke-width="1"/>
<text x="172.70" y="536.76" font-size="8.4" text-anchor="end" font-weight="normal" fill="#2a2a2a" stroke="#2a2a2a" stroke-width="0.05">40</text>
<line x1="175.70000000000002" y1="547.7714285714286" x2="178.9" y2="547.7714285714286" stroke="#1e1e1e" stroke-width="1"/>
<text x="172.70" y="550.42" font-size="8.4" text-anchor="end" font-weight="normal" fill="#2a2a2a" stroke="#2a2a2a" stroke-width="0.05">35</text>
<line x1="175.70000000000002" y1="561.4285714285714" x2="178.9" y2="561.4285714285714" stroke="#1e1e1e" stroke-width="1"/>
<text x="172.70" y="564.08" font-size="8.4" text-anchor="end" font-weight="normal" fill="#2a2a2a" stroke="#2a2a2a" stroke-width="0.05">30</text>
<line x1="175.70000000000002" y1="575.0857142857143" x2="178.9" y2="575.0857142857143" stroke="#1e1e1e" stroke-width="1"/>
<text x="172.70" y="577.74" font-size="8.4" text-anchor="end" font-weight="normal" fill="#2a2a2a" stroke="#2a2a2a" stroke-width="0.05">25</text>
<line x1="175.70000000000002" y1="588.7428571428571" x2="178.9" y2="588.7428571428571" stroke="#1e1e1e" stroke-width="1"/>
<text x="172.70" y="591.39" font-size="8.4" text-anchor="end" font-weight="normal" fill="#2a2a2a" stroke="#2a2a2a" stroke-width="0.05">20</text>
<line x1="175.70000000000002" y1="602.4" x2="178.9" y2="602.4" stroke="#1e1e1e" stroke-width="1"/>
<text x="172.70" y="605.05" font-size="8.4" text-anchor="end" font-weight="normal" fill="#2a2a2a" stroke="#2a2a2a" stroke-width="0.05">15</text>
<rect x="190.50" y="553.10" width="19.8" height="48.70" fill="#8d99be"/>
<line x1="200.40" y1="602.4" x2="200.40" y2="605.1999999999999" stroke="#1e1e1e" stroke-width="1"/>
<circle cx="200.30" cy="516.20" r="1.4" fill="#16294f"/>
<circle cx="200.30" cy="540.90" r="1.4" fill="#16294f"/>
<circle cx="195.10" cy="553.90" r="1.4" fill="#16294f"/>
<circle cx="200.30" cy="553.90" r="1.4" fill="#16294f"/>
<circle cx="205.50" cy="553.40" r="1.4" fill="#16294f"/>
<circle cx="195.10" cy="556.40" r="1.4" fill="#16294f"/>
<circle cx="205.50" cy="561.80" r="1.4" fill="#16294f"/>
<circle cx="200.30" cy="563.30" r="1.4" fill="#16294f"/>
<circle cx="200.30" cy="569.80" r="1.4" fill="#16294f"/>
<path d="M195.00,547.60 H205.80 M200.40,547.60 V557.30 M195.00,557.30 H205.80" stroke="#24457a" stroke-width="1.1" fill="none"/>
<rect x="223.10" y="556.90" width="19.8" height="44.90" fill="#e6897e"/>
<line x1="233.00" y1="602.4" x2="233.00" y2="605.1999999999999" stroke="#1e1e1e" stroke-width="1"/>
<circle cx="233.00" cy="526.80" r="1.4" fill="#940e26"/>
<circle cx="233.00" cy="538.30" r="1.4" fill="#940e26"/>
<circle cx="233.00" cy="548.70" r="1.4" fill="#940e26"/>
<circle cx="233.00" cy="557.90" r="1.4" fill="#940e26"/>
<circle cx="233.00" cy="561.30" r="1.4" fill="#940e26"/>
<circle cx="227.80" cy="563.80" r="1.4" fill="#940e26"/>
<circle cx="238.30" cy="563.80" r="1.4" fill="#940e26"/>
<circle cx="235.60" cy="569.80" r="1.4" fill="#940e26"/>
<circle cx="230.40" cy="572.20" r="1.4" fill="#940e26"/>
<path d="M227.60,550.90 H238.40 M233.00,550.90 V560.90 M227.60,560.90 H238.40" stroke="#b3142f" stroke-width="1.1" fill="none"/>
<text x="200.40" y="615.30" font-size="8.3" text-anchor="middle" font-weight="normal" fill="#222" stroke="#222" stroke-width="0.14">PBS</text>
<text x="233.00" y="615.30" font-size="8.3" text-anchor="middle" font-weight="normal" fill="#222" stroke="#222" stroke-width="0.14">DCA</text>
<g transform="translate(218.20,628.60) scale(0.61,1)"><text x="0" y="0" font-size="9.5" text-anchor="middle" fill="#1a1a1a" stroke="#1a1a1a" stroke-width="0.5">VDR<tspan dy="-3.3" font-size="8" letter-spacing="1.3">−/−</tspan></text></g>
<g transform="translate(157.50,553.10) rotate(-90) scale(0.73,1)"><text x="0" y="0" font-size="9.4" text-anchor="middle" fill="#1a1a1a" stroke="#1a1a1a" stroke-width="0.3">% live</text></g>
<text x="138.60" y="495.00" font-size="11.5" text-anchor="start" font-weight="bold" fill="#111" stroke="#111" stroke-width="0.3">G</text>
<line x1="311.4" y1="503.6" x2="311.4" y2="602.4" stroke="#1e1e1e" stroke-width="1.3"/>
<line x1="310.79999999999995" y1="602.4" x2="388.0" y2="602.4" stroke="#1e1e1e" stroke-width="1.3"/>
<line x1="308.2" y1="506.8" x2="311.4" y2="506.8" stroke="#1e1e1e" stroke-width="1"/>
<text x="305.20" y="509.45" font-size="8.4" text-anchor="end" font-weight="normal" fill="#2a2a2a" stroke="#2a2a2a" stroke-width="0.05">10</text>
<line x1="308.2" y1="525.92" x2="311.4" y2="525.92" stroke="#1e1e1e" stroke-width="1"/>
<text x="305.20" y="528.57" font-size="8.4" text-anchor="end" font-weight="normal" fill="#2a2a2a" stroke="#2a2a2a" stroke-width="0.05">8</text>
<line x1="308.2" y1="545.04" x2="311.4" y2="545.04" stroke="#1e1e1e" stroke-width="1"/>
<text x="305.20" y="547.69" font-size="8.4" text-anchor="end" font-weight="normal" fill="#2a2a2a" stroke="#2a2a2a" stroke-width="0.05">6</text>
<line x1="308.2" y1="564.16" x2="311.4" y2="564.16" stroke="#1e1e1e" stroke-width="1"/>
<text x="305.20" y="566.81" font-size="8.4" text-anchor="end" font-weight="normal" fill="#2a2a2a" stroke="#2a2a2a" stroke-width="0.05">4</text>
<line x1="308.2" y1="583.28" x2="311.4" y2="583.28" stroke="#1e1e1e" stroke-width="1"/>
<text x="305.20" y="585.93" font-size="8.4" text-anchor="end" font-weight="normal" fill="#2a2a2a" stroke="#2a2a2a" stroke-width="0.05">2</text>
<line x1="308.2" y1="602.4" x2="311.4" y2="602.4" stroke="#1e1e1e" stroke-width="1"/>
<text x="305.20" y="605.05" font-size="8.4" text-anchor="end" font-weight="normal" fill="#2a2a2a" stroke="#2a2a2a" stroke-width="0.05">0</text>
<rect x="323.30" y="549.90" width="19.8" height="51.90" fill="#8d99be"/>
<line x1="333.20" y1="602.4" x2="333.20" y2="605.1999999999999" stroke="#1e1e1e" stroke-width="1"/>
<circle cx="332.80" cy="539.20" r="1.4" fill="#16294f"/>
<circle cx="325.00" cy="547.40" r="1.4" fill="#16294f"/>
<circle cx="330.40" cy="547.10" r="1.4" fill="#16294f"/>
<circle cx="335.60" cy="547.70" r="1.4" fill="#16294f"/>
<circle cx="340.80" cy="545.70" r="1.4" fill="#16294f"/>
<circle cx="335.60" cy="551.00" r="1.4" fill="#16294f"/>
<circle cx="330.40" cy="554.50" r="1.4" fill="#16294f"/>
<circle cx="330.40" cy="556.60" r="1.4" fill="#16294f"/>
<circle cx="335.60" cy="556.10" r="1.4" fill="#16294f"/>
<path d="M327.80,547.70 H338.60 M333.20,547.70 V551.60 M327.80,551.60 H338.60" stroke="#24457a" stroke-width="1.1" fill="none"/>
<rect x="355.60" y="543.90" width="19.8" height="57.90" fill="#e6897e"/>
<line x1="365.50" y1="602.4" x2="365.50" y2="605.1999999999999" stroke="#1e1e1e" stroke-width="1"/>
<circle cx="365.90" cy="524.90" r="1.4" fill="#940e26"/>
<circle cx="360.30" cy="537.50" r="1.4" fill="#940e26"/>
<circle cx="370.80" cy="537.50" r="1.4" fill="#940e26"/>
<circle cx="365.90" cy="540.10" r="1.4" fill="#940e26"/>
<circle cx="360.30" cy="542.50" r="1.4" fill="#940e26"/>
<circle cx="370.80" cy="541.10" r="1.4" fill="#940e26"/>
<circle cx="365.90" cy="544.60" r="1.4" fill="#940e26"/>
<circle cx="370.80" cy="544.30" r="1.4" fill="#940e26"/>
<circle cx="365.90" cy="552.80" r="1.4" fill="#940e26"/>
<circle cx="365.90" cy="560.10" r="1.4" fill="#940e26"/>
<path d="M360.10,539.70 H370.90 M365.50,539.70 V544.90 M360.10,544.90 H370.90" stroke="#b3142f" stroke-width="1.1" fill="none"/>
<text x="333.20" y="615.30" font-size="8.3" text-anchor="middle" font-weight="normal" fill="#222" stroke="#222" stroke-width="0.14">PBS</text>
<text x="365.50" y="615.30" font-size="8.3" text-anchor="middle" font-weight="normal" fill="#222" stroke="#222" stroke-width="0.14">DCA</text>
<g transform="translate(347.40,628.60) scale(0.61,1)"><text x="0" y="0" font-size="9.5" text-anchor="middle" fill="#1a1a1a" stroke="#1a1a1a" stroke-width="0.5">VDR<tspan dy="-3.3" font-size="8" letter-spacing="1.3">+/+</tspan></text></g>
<g transform="translate(290.00,553.10) rotate(-90) scale(0.73,1)"><text x="0" y="0" font-size="9.4" text-anchor="middle" fill="#1a1a1a" stroke="#1a1a1a" stroke-width="0.3">% live</text></g>
<text x="271.50" y="495.00" font-size="11.5" text-anchor="start" font-weight="bold" fill="#111" stroke="#111" stroke-width="0.3">H</text>
<line x1="441.5" y1="503.6" x2="441.5" y2="602.4" stroke="#1e1e1e" stroke-width="1.3"/>
<line x1="440.9" y1="602.4" x2="513.0" y2="602.4" stroke="#1e1e1e" stroke-width="1.3"/>
<line x1="438.3" y1="506.8" x2="441.5" y2="506.8" stroke="#1e1e1e" stroke-width="1"/>
<text x="435.30" y="509.45" font-size="8.4" text-anchor="end" font-weight="normal" fill="#2a2a2a" stroke="#2a2a2a" stroke-width="0.05">10</text>
<line x1="438.3" y1="525.92" x2="441.5" y2="525.92" stroke="#1e1e1e" stroke-width="1"/>
<text x="435.30" y="528.57" font-size="8.4" text-anchor="end" font-weight="normal" fill="#2a2a2a" stroke="#2a2a2a" stroke-width="0.05">8</text>
<line x1="438.3" y1="545.04" x2="441.5" y2="545.04" stroke="#1e1e1e" stroke-width="1"/>
<text x="435.30" y="547.69" font-size="8.4" text-anchor="end" font-weight="normal" fill="#2a2a2a" stroke="#2a2a2a" stroke-width="0.05">6</text>
<line x1="438.3" y1="564.16" x2="441.5" y2="564.16" stroke="#1e1e1e" stroke-width="1"/>
<text x="435.30" y="566.81" font-size="8.4" text-anchor="end" font-weight="normal" fill="#2a2a2a" stroke="#2a2a2a" stroke-width="0.05">4</text>
<line x1="438.3" y1="583.28" x2="441.5" y2="583.28" stroke="#1e1e1e" stroke-width="1"/>
<text x="435.30" y="585.93" font-size="8.4" text-anchor="end" font-weight="normal" fill="#2a2a2a" stroke="#2a2a2a" stroke-width="0.05">2</text>
<line x1="438.3" y1="602.4" x2="441.5" y2="602.4" stroke="#1e1e1e" stroke-width="1"/>
<text x="435.30" y="605.05" font-size="8.4" text-anchor="end" font-weight="normal" fill="#2a2a2a" stroke="#2a2a2a" stroke-width="0.05">0</text>
<rect x="448.30" y="542.60" width="19.8" height="59.20" fill="#8d99be"/>
<line x1="458.20" y1="602.4" x2="458.20" y2="605.1999999999999" stroke="#1e1e1e" stroke-width="1"/>
<circle cx="458.60" cy="512.00" r="1.4" fill="#16294f"/>
<circle cx="458.60" cy="523.80" r="1.4" fill="#16294f"/>
<circle cx="455.70" cy="533.50" r="1.4" fill="#16294f"/>
<circle cx="461.10" cy="533.50" r="1.4" fill="#16294f"/>
<circle cx="458.60" cy="535.50" r="1.4" fill="#16294f"/>
<circle cx="455.70" cy="539.20" r="1.4" fill="#16294f"/>
<circle cx="461.10" cy="537.90" r="1.4" fill="#16294f"/>
<circle cx="455.70" cy="547.00" r="1.4" fill="#16294f"/>
<circle cx="461.10" cy="546.00" r="1.4" fill="#16294f"/>
<circle cx="458.60" cy="572.70" r="1.4" fill="#16294f"/>
<circle cx="458.60" cy="575.80" r="1.4" fill="#16294f"/>
<path d="M452.80,535.90 H463.60 M458.20,535.90 V547.60 M452.80,547.60 H463.60" stroke="#24457a" stroke-width="1.1" fill="none"/>
<rect x="480.90" y="545.00" width="19.8" height="56.80" fill="#e6897e"/>
<line x1="490.80" y1="602.4" x2="490.80" y2="605.1999999999999" stroke="#1e1e1e" stroke-width="1"/>
<circle cx="485.70" cy="521.90" r="1.4" fill="#940e26"/>
<circle cx="490.90" cy="524.10" r="1.4" fill="#940e26"/>
<circle cx="490.90" cy="527.70" r="1.4" fill="#940e26"/>
<circle cx="490.90" cy="537.60" r="1.4" fill="#940e26"/>
<circle cx="490.90" cy="553.60" r="1.4" fill="#940e26"/>
<circle cx="490.90" cy="555.90" r="1.4" fill="#940e26"/>
<circle cx="485.70" cy="561.10" r="1.4" fill="#940e26"/>
<circle cx="490.90" cy="559.80" r="1.4" fill="#940e26"/>
<circle cx="496.40" cy="560.60" r="1.4" fill="#940e26"/>
<path d="M485.40,539.20 H496.20 M490.80,539.20 V550.40 M485.40,550.40 H496.20" stroke="#b3142f" stroke-width="1.1" fill="none"/>
<text x="458.20" y="615.30" font-size="8.3" text-anchor="middle" font-weight="normal" fill="#222" stroke="#222" stroke-width="0.14">PBS</text>
<text x="490.80" y="615.30" font-size="8.3" text-anchor="middle" font-weight="normal" fill="#222" stroke="#222" stroke-width="0.14">DCA</text>
<g transform="translate(478.20,628.60) scale(0.61,1)"><text x="0" y="0" font-size="9.5" text-anchor="middle" fill="#1a1a1a" stroke="#1a1a1a" stroke-width="0.5">VDR<tspan dy="-3.3" font-size="8" letter-spacing="1.3">−/−</tspan></text></g>
<g transform="translate(420.10,553.10) rotate(-90) scale(0.73,1)"><text x="0" y="0" font-size="9.4" text-anchor="middle" fill="#1a1a1a" stroke="#1a1a1a" stroke-width="0.3">% live</text></g>
<text x="404.60" y="495.00" font-size="11.5" text-anchor="start" font-weight="bold" fill="#111" stroke="#111" stroke-width="0.3">I</text>
</svg>
</body></html>
